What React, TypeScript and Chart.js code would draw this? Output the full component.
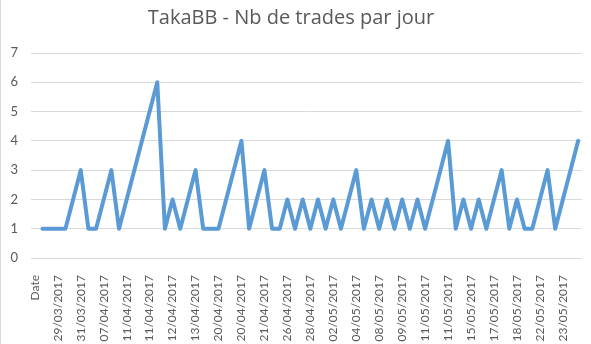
import React, { useEffect, useRef } from "react";
import { Chart, registerables } from "chart.js";

Chart.register(...registerables);

const chartTitle = "TakaBB - Nb de trades par jour";

const categories: string[] = [
  "Date", "27/03/2017", "28/03/2017",
  "29/03/2017", "30/03/2017", "30/03/2017",
  "31/03/2017", "03/04/2017", "05/04/2017",
  "07/04/2017", "10/04/2017", "10/04/2017",
  "11/04/2017", "11/04/2017", "11/04/2017",
  "11/04/2017", "11/04/2017", "12/04/2017",
  "12/04/2017", "12/04/2017", "13/04/2017",
  "13/04/2017", "18/04/2017", "19/04/2017",
  "20/04/2017", "20/04/2017", "20/04/2017",
  "20/04/2017", "20/04/2017", "21/04/2017",
  "21/04/2017", "24/04/2017", "25/04/2017",
  "26/04/2017", "27/04/2017", "27/04/2017",
  "28/04/2017", "28/04/2017", "02/05/2017",
  "02/05/2017", "03/05/2017", "03/05/2017",
  "04/05/2017", "05/05/2017", "05/05/2017",
  "08/05/2017", "08/05/2017", "09/05/2017",
  "09/05/2017", "10/05/2017", "10/05/2017",
  "11/05/2017", "11/05/2017", "11/05/2017",
  "11/05/2017", "12/05/2017", "15/05/2017",
  "15/05/2017", "16/05/2017", "16/05/2017",
  "17/05/2017", "17/05/2017", "18/05/2017",
  "18/05/2017", "19/05/2017", "22/05/2017",
  "22/05/2017", "22/05/2017", "23/05/2017",
  "23/05/2017", "24/05/2017", "24/05/2017",
];

// first category ("Date") holds no value
const tradesPerDay: (number | null)[] = [
  null,
  1, 1, 1, 1, 2, 3, 1, 1, 2, 3,
  1, 2, 3, 4, 5, 6, 1, 2, 1, 2,
  3, 1, 1, 1, 2, 3, 4, 1, 2, 3,
  1, 1, 2, 1, 2, 1, 2, 1, 2, 1,
  2, 3, 1, 2, 1, 2, 1, 2, 1, 2,
  1, 2, 3, 4, 1, 2, 1, 2, 1, 2,
  3, 1, 2, 1, 1, 2, 3, 1, 2, 3,
  4,
];

const yTickValues = [0, 1, 2, 3, 4, 5, 6, 7];
const labelEvery = 3;

const FONT = "Lato, 'Open Sans', sans-serif";
const TITLE_FONT = "'Open Sans', Lato, sans-serif";
const TEXT = "#595959";
const GRID = "#D9D9D9";

export default function App() {
  const ref = useRef<HTMLCanvasElement | null>(null);

  useEffect(() => {
    document.body.style.margin = "0";
    const canvas = ref.current;
    if (!canvas) return;
    const chart = new Chart(canvas, {
      type: "line",
      data: {
        labels: categories,
        datasets: [
          {
            data: tradesPerDay,
            borderColor: "#5B9BD5",
            backgroundColor: "#5B9BD5",
            borderWidth: 4,
            pointRadius: 0,
            pointHoverRadius: 0,
            tension: 0,
            borderJoinStyle: "round",
            borderCapStyle: "round",
            spanGaps: false,
          },
        ],
      },
      options: {
        responsive: false,
        animation: false,
        events: [],
        layout: { padding: { left: 0, right: 9, top: 0, bottom: 0 } },
        plugins: {
          legend: { display: false },
          tooltip: { enabled: false },
          title: {
            display: true,
            text: chartTitle,
            color: TEXT,
            font: { family: TITLE_FONT, size: 20, weight: "normal" },
            padding: { top: 6, bottom: 23 },
          },
        },
        scales: {
          x: {
            type: "category",
            offset: true,
            grid: { display: false },
            border: { display: false },
            ticks: {
              autoSkip: false,
              maxRotation: 90,
              minRotation: 90,
              padding: 9,
              color: TEXT,
              font: { family: FONT, size: 12 },
              callback: (_v: any, i: number) =>
                i % labelEvery === 0 ? categories[i] : "",
            },
            afterFit: (s: any) => {
              s.height = 86;
              s.paddingLeft = 0;
              s.paddingRight = 0;
            },
          },
          y: {
            min: yTickValues[0],
            max: yTickValues[yTickValues.length - 1],
            afterBuildTicks: (s: any) => {
              s.ticks = yTickValues.map((v) => ({ value: v }));
            },
            grid: { color: GRID, lineWidth: 1, drawTicks: false },
            border: { display: false },
            ticks: {
              padding: 13,
              color: TEXT,
              font: { family: FONT, size: 13 },
            },
            afterFit: (s: any) => {
              s.width = 31;
            },
          },
        },
      },
    });
    return () => chart.destroy();
  }, []);

  return (
    <div style={{ position: "relative", width: 591, height: 344, background: "#fff", overflow: "hidden" }}>
      <canvas ref={ref} width={591} height={344} style={{ display: "block" }} />
      <div style={{ position: "absolute", left: 0, top: 0, width: 1, height: 344, background: GRID }} />
    </div>
  );
}
